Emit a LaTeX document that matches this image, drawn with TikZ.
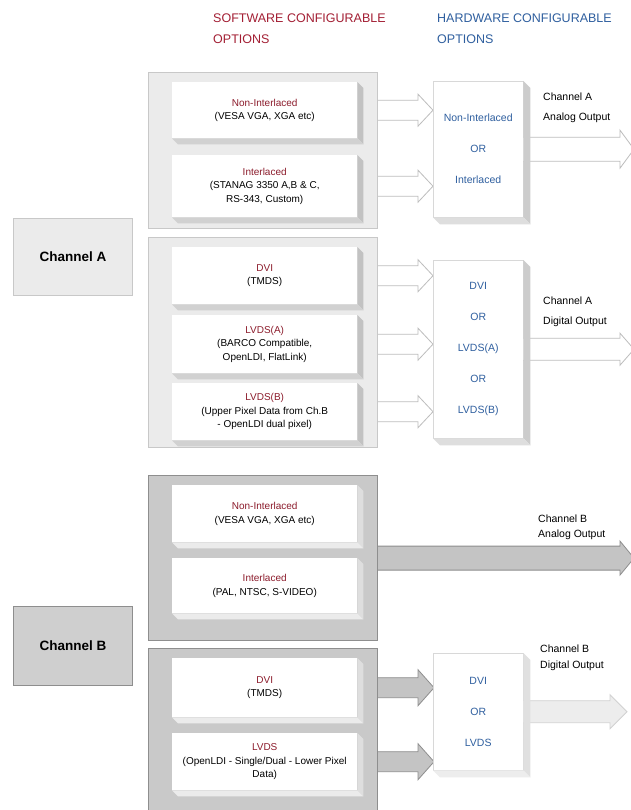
\documentclass[tikz,border=0pt]{standalone}
\usepackage{fontspec}
\setmainfont{Liberation Sans}
\usetikzlibrary{calc}

% block arrow: style, from, to, body half, head half, head length
\newcommand{\fatarrow}[6]{%
  \draw[#1] let \p1=(#2), \p2=(#3) in
    (\x1,\y1+#4pt) -- (\x2-#6pt,\y1+#4pt) -- (\x2-#6pt,\y1+#5pt)
    -- (\x2,\y1) -- (\x2-#6pt,\y1-#5pt) -- (\x2-#6pt,\y1-#4pt) -- (\x1,\y1-#4pt);
}
% 3D faces on the right and bottom of a box: node, depth, side, bottom
\newcommand{\bevel}[4]{%
  \fill[#3] (#1.north east) -- ++(#2,#2) -- ([shift={(#2,#2)}]#1.south east) -- (#1.south east) -- cycle;
  \fill[#4] (#1.south west) -- ++(#2,#2) -- ([shift={(#2,#2)}]#1.south east) -- (#1.south east) -- cycle;
}

\begin{document}
\begin{tikzpicture}[x=1pt,y=-1pt,
  grpA/.style={draw=lineA, fill=fillA, line width=1.2pt, anchor=north west, minimum width=229, inner sep=0},
  grpB/.style={draw=lineB, fill=fillB, line width=1.2pt, anchor=north west, minimum width=229, inner sep=0},
  swbox/.style={fill=white, anchor=north west, minimum width=185, align=center, inner sep=0, font=\fontsize{10}{13.5}\selectfont},
  hwbox/.style={fill=white, draw=hwLine, line width=0.4pt, anchor=north west, minimum width=90, align=center, inner sep=0, text=hwBlue, font=\fontsize{10.5}{31}\selectfont},
  chbox/.style={anchor=north west, minimum width=119, line width=1pt, font=\fontsize{13.5}{15}\selectfont\bfseries},
  head/.style={anchor=north west, align=left, inner sep=0, font=\fontsize{12.5}{21}\selectfont},
  outlbl/.style={anchor=north west, align=left, inner sep=0},
  hollow/.style={fill=white, draw=arrLine, line width=0.8pt},
  greyarr/.style={fill=arrFillB, draw=arrLineB, line width=0.8pt},
  paleArr/.style={fill=arrPale, draw=arrPaleLine, line width=0.8pt}
]

% Colori
\definecolor{fillA}{HTML}{EBEBEB}
\definecolor{lineA}{HTML}{C8C8C8}
\definecolor{fillB}{HTML}{C9C9C9}
\definecolor{lineB}{HTML}{8E8E8E}
\definecolor{swRed}{HTML}{A31F34}
\definecolor{boxRed}{HTML}{8C1C2C}
\definecolor{hwBlue}{HTML}{2F5F9F}
\definecolor{hwLine}{HTML}{D8D8D8}
\definecolor{arrLine}{HTML}{BDBDBD}
\definecolor{arrFillB}{HTML}{C4C4C4}
\definecolor{arrLineB}{HTML}{8E8E8E}
\definecolor{arrPale}{HTML}{EDEDED}
\definecolor{arrPaleLine}{HTML}{D2D2D2}

\useasboundingbox[fill=white] (0,0) rectangle (630,810);

% Intestazioni
\node[head, text=swRed] (swhead) at (213,14) {SOFTWARE CONFIGURABLE\\OPTIONS};
\node[head, text=hwBlue] (hwhead) at (437,14) {HARDWARE CONFIGURABLE\\OPTIONS};

% Canale A - analogico
\node[grpA, minimum height=156] (grpAa) at (148,72) {};
\node[swbox, minimum height=56] (swAa1) at (172,82)
  {\textcolor{boxRed}{Non-Interlaced}\\(VESA VGA, XGA etc)};
\node[swbox, minimum height=62] (swAa2) at (172,155)
  {\textcolor{boxRed}{Interlaced}\\(STANAG 3350 A,B \& C,\\RS-343, Custom)};
\bevel{swAa1}{6}{black!24}{black!18}
\bevel{swAa2}{6}{black!24}{black!18}

% Canale A - digitale
\node[grpA, minimum height=210] (grpAb) at (148,237) {};
\node[swbox, minimum height=57] (swAb1) at (172,247)
  {\textcolor{boxRed}{DVI}\\(TMDS)};
\node[swbox, minimum height=58] (swAb2) at (172,315)
  {\textcolor{boxRed}{LVDS(A)}\\(BARCO Compatible,\\OpenLDI, FlatLink)};
\node[swbox, minimum height=57] (swAb3) at (172,383)
  {\textcolor{boxRed}{LVDS(B)}\\(Upper Pixel Data from Ch.B\\- OpenLDI dual pixel)};
\bevel{swAb1}{6}{black!24}{black!18}
\bevel{swAb2}{6}{black!24}{black!18}
\bevel{swAb3}{6}{black!24}{black!18}

\node[chbox, draw=lineA, fill=fillA, minimum height=77] (chA) at (13,218) {Channel A};

% Canale B - analogico
\node[grpB, minimum height=165] (grpBa) at (148,475) {};
\node[swbox, minimum height=57] (swBa1) at (172,485)
  {\textcolor{boxRed}{Non-Interlaced}\\(VESA VGA, XGA etc)};
\node[swbox, minimum height=55] (swBa2) at (172,558)
  {\textcolor{boxRed}{Interlaced}\\(PAL, NTSC, S-VIDEO)};
\bevel{swBa1}{6}{black!13}{black!8}
\bevel{swBa2}{6}{black!13}{black!8}

% Canale B - digitale
\node[grpB, minimum height=170] (grpBb) at (148,648) {};
\node[swbox, minimum height=59] (swBb1) at (172,658)
  {\textcolor{boxRed}{DVI}\\(TMDS)};
\node[swbox, minimum height=57] (swBb2) at (172,733)
  {\textcolor{boxRed}{LVDS}\\(OpenLDI - Single/Dual - Lower Pixel\\Data)};
\bevel{swBb1}{6}{black!13}{black!8}
\bevel{swBb2}{6}{black!13}{black!8}

\node[chbox, draw=lineB, fill=black!19, minimum height=79] (chB) at (13,606) {Channel B};

% Estremi delle uscite
\coordinate (edgeA) at (634,0);
\coordinate (edgeB) at (627,0);

% Frecce (prima dei blocchi hardware)
\coordinate (hwAaW) at (433,0);
\coordinate (hwAbW) at (433,0);
\coordinate (hwBbW) at (434,0);
\fatarrow{hollow}{grpAa.east |- swAa1.east}{hwAaW}{10}{16}{15}
\fatarrow{hollow}{grpAa.east |- swAa2.east}{hwAaW}{10}{16}{15}
\fatarrow{hollow}{grpAb.east |- swAb1.east}{hwAbW}{10}{16}{15}
\fatarrow{hollow}{grpAb.east |- swAb2.east}{hwAbW}{10}{16}{15}
\fatarrow{hollow}{grpAb.east |- swAb3.east}{hwAbW}{10}{16}{15}
\fatarrow{greyarr}{grpBa.east}{edgeA}{12}{17}{14}
\fatarrow{greyarr}{grpBb.east |- swBb1.east}{hwBbW}{10}{18}{16}
\fatarrow{greyarr}{grpBb.east |- swBb2.east}{hwBbW}{10}{18}{16}

% Blocchi hardware
\node[hwbox, minimum height=136] (hwAa) at (433,81) {Non-Interlaced\\OR\\Interlaced};
\node[hwbox, minimum height=178] (hwAb) at (433,260) {DVI\\OR\\LVDS(A)\\OR\\LVDS(B)};
\node[hwbox, minimum height=117] (hwBb) at (433,653) {DVI\\OR\\LVDS};

\fatarrow{hollow}{hwAa.east}{edgeA}{12}{19}{14}
\fatarrow{hollow}{hwAb.east}{edgeA}{11}{16}{14}
\fatarrow{paleArr}{hwBb.east}{edgeB}{11}{17}{17}

\bevel{hwAa}{7}{black!20}{black!13}
\bevel{hwAb}{7}{black!20}{black!13}
\bevel{hwBb}{7}{black!12}{black!7}

% Etichette delle uscite
\node[outlbl, font=\fontsize{10.5}{20}\selectfont] (lblAa) at (543,93) {Channel A\\Analog Output};
\node[outlbl, font=\fontsize{10.5}{20}\selectfont] (lblAb) at (543,297) {Channel A\\Digital Output};
\node[outlbl, font=\fontsize{10.5}{15}\selectfont] (lblBa) at (538,515) {Channel B\\Analog Output};
\node[outlbl, font=\fontsize{10.5}{16}\selectfont] (lblBb) at (540,645) {Channel B\\Digital Output};
\end{tikzpicture}
\end{document}
